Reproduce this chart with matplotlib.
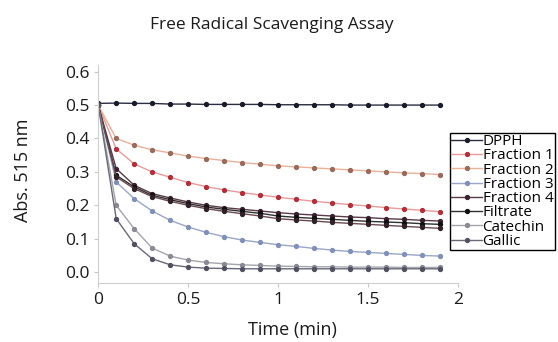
import matplotlib
matplotlib.use("Agg")
import matplotlib.pyplot as plt

plt.rcParams['font.family'] = ['Open Sans', 'DejaVu Sans']

# time points (min)
t = [0.0, 0.1, 0.2, 0.3, 0.4, 0.5, 0.6, 0.7, 0.8, 0.9,
     1.0, 1.1, 1.2, 1.3, 1.4, 1.5, 1.6, 1.7, 1.8, 1.9]

dpph = [0.505, 0.506, 0.505, 0.505, 0.503, 0.503, 0.502, 0.502, 0.502, 0.502,
        0.501, 0.501, 0.501, 0.501, 0.500, 0.500, 0.500, 0.500, 0.500, 0.500]
fraction1 = [0.50, 0.369, 0.324, 0.300, 0.284, 0.268, 0.256, 0.246, 0.238, 0.231,
             0.224, 0.218, 0.212, 0.207, 0.202, 0.198, 0.193, 0.189, 0.185, 0.181]
fraction2 = [0.50, 0.400, 0.380, 0.366, 0.357, 0.347, 0.340, 0.334, 0.328, 0.323,
             0.318, 0.315, 0.312, 0.309, 0.306, 0.303, 0.300, 0.297, 0.295, 0.292]
fraction3 = [0.50, 0.270, 0.220, 0.183, 0.155, 0.135, 0.119, 0.106, 0.096, 0.089,
             0.082, 0.077, 0.071, 0.066, 0.062, 0.059, 0.056, 0.053, 0.050, 0.048]
fraction4 = [0.50, 0.310, 0.260, 0.235, 0.222, 0.210, 0.200, 0.193, 0.188, 0.183,
             0.178, 0.174, 0.171, 0.168, 0.165, 0.163, 0.160, 0.158, 0.155, 0.153]
filtrate = [0.50, 0.290, 0.255, 0.230, 0.217, 0.205, 0.195, 0.188, 0.182, 0.176,
            0.168, 0.164, 0.161, 0.158, 0.155, 0.152, 0.150, 0.148, 0.145, 0.143]
extra = [0.50, 0.285, 0.250, 0.226, 0.212, 0.200, 0.190, 0.182, 0.175, 0.168,
         0.160, 0.156, 0.153, 0.149, 0.146, 0.143, 0.140, 0.137, 0.134, 0.131]
catechin = [0.50, 0.200, 0.130, 0.072, 0.048, 0.036, 0.029, 0.025, 0.022, 0.020,
            0.018, 0.017, 0.016, 0.016, 0.015, 0.015, 0.015, 0.014, 0.014, 0.014]
gallic = [0.50, 0.160, 0.085, 0.040, 0.022, 0.015, 0.012, 0.011, 0.010, 0.010,
          0.010, 0.010, 0.010, 0.010, 0.010, 0.010, 0.010, 0.010, 0.010, 0.010]

series = [
    ("DPPH", dpph, "#2a2d40", "#1a1a2a"),
    ("Fraction 1", fraction1, "#e89a9a", "#b0303a"),
    ("Fraction 2", fraction2, "#ebb098", "#9a6a5a"),
    ("Fraction 3", fraction3, "#9aa6c8", "#8090b8"),
    ("Fraction 4", fraction4, "#5a3a48", "#3a2030"),
    ("Filtrate", filtrate, "#303030", "#101010"),
    ("_nolegend_", extra, "#6a4a50", "#302028"),
    ("Catechin", catechin, "#a4a4ac", "#8a8a94"),
    ("Gallic", gallic, "#686878", "#505060"),
]

fig = plt.figure(figsize=(5.58, 3.42), dpi=100)
ax = fig.add_axes([0.176, 0.173, 0.645, 0.637])

for name, vals, lc, mc in series:
    ax.plot(t, vals, color=lc, lw=1.0, marker='o', ms=2.8,
            mfc=mc, mec=mc, label=name)

ax.set_xlim(0, 2)
ax.set_ylim(-0.032, 0.62)
ax.set_xticks([0, 0.5, 1, 1.5, 2])
ax.set_xticklabels(['0', '0.5', '1', '1.5', '2'])
ax.set_yticks([0.0, 0.1, 0.2, 0.3, 0.4, 0.5, 0.6])
ax.set_yticklabels(['0.0', '0.1', '0.2', '0.3', '0.4', '0.5', '0.6'])
ax.tick_params(labelsize=12.5, colors='#c8c8c8', labelcolor='#1a1a1a', length=3)

for s in ['top', 'right']:
    ax.spines[s].set_visible(False)
for s in ['left', 'bottom']:
    ax.spines[s].set_color('#cfcfcf')

ax.set_xlabel('Time (min)', fontsize=13, color='#1a1a1a')
ax.xaxis.set_label_coords(0.54, -0.175)
ax.set_ylabel('Abs. 515 nm', fontsize=13, color='#1a1a1a')
ax.yaxis.set_label_coords(-0.185, 0.518)

fig.text(0.488, 0.927, 'Free Radical Scavenging Assay', ha='center', va='center',
         fontsize=12.5, color='#1a1a1a')

leg = fig.legend(loc='upper left', bbox_to_anchor=(0.806, 0.612), fontsize=11,
                 frameon=True, fancybox=False, edgecolor='black', framealpha=1,
                 labelspacing=-0.05, handlelength=2.0, handletextpad=0.05,
                 borderpad=0.1, borderaxespad=0)
leg.get_frame().set_linewidth(1.0)

fig.savefig('out.png', dpi=100)
